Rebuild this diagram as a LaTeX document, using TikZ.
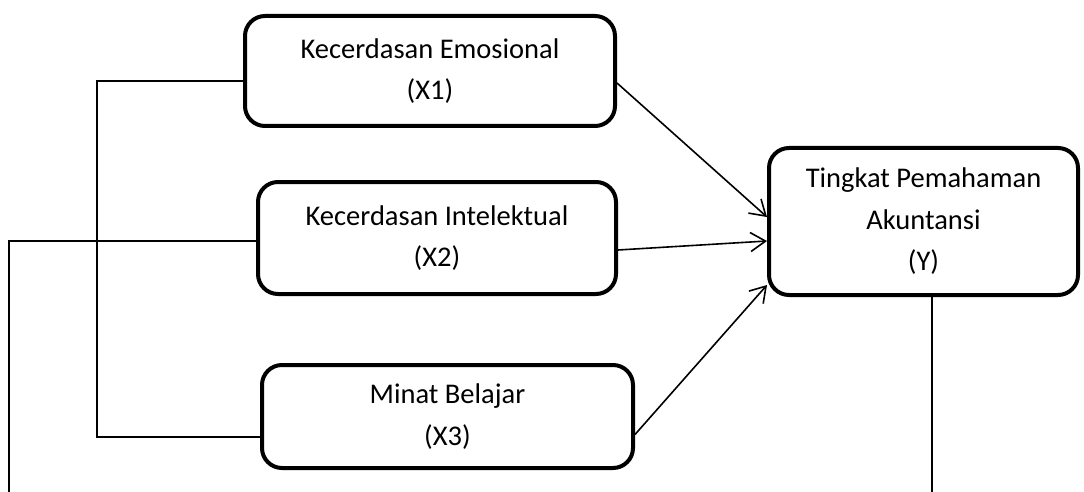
\documentclass[tikz,border=0pt]{standalone}
\usepackage{fontspec}
\setmainfont{Carlito}
\usetikzlibrary{arrows.meta,calc}
\tikzset{
  box/.style={draw, line width=4pt, rounded corners=20pt, align=center, inner sep=0pt,
    font=\fontsize{28.5}{41.5}\selectfont},
  conn/.style={line width=1.6pt},
  arr/.style={line width=1.6pt, -{Straight Barb[length=15pt,width=19pt,line width=1.6pt]}},
}
\begin{document}
\begin{tikzpicture}[x=1pt,y=-1pt]
\useasboundingbox (0,0) rectangle (1084,492);
\node[box, minimum width=370pt, minimum height=110pt] (X1) at (430,71) {Kecerdasan Emosional\\(X1)};
\node[box, minimum width=358pt, minimum height=112pt] (X2) at (437,238) {Kecerdasan Intelektual\\(X2)};
\node[box, minimum width=371pt, minimum height=103pt] (X3) at (447.5,416.5) {Minat Belajar\\(X3)};
\node[box, minimum width=309pt, minimum height=147pt] (Y) at (923.5,221.5) {Tingkat Pemahaman\\Akuntansi\\(Y)};
% arrows
\draw[arr] ($(X1.east)+(0,12)$) -- ($(Y.west)+(0,-4.5)$);
\draw[arr] ($(X2.east)+(0,12)$) -- ($(Y.west)+(0,19.5)$);
\draw[arr] ($(X3.east)+(0,18)$) -- ($(Y.west)+(0,63.5)$);
% bracket
\coordinate (b1) at (97,81);
\coordinate (b3) at (97,437);
\draw[conn] ($(X1.west)+(0,10)$) -- (b1) -- (b3) -- ($(X3.west)+(0,20.5)$);
% left line
\coordinate (l1) at (9,241);
\coordinate (l2) at (9,492);
\draw[conn] ($(X2.west)+(0,3)$) -- (l1) -- (l2);
% Y bottom
\coordinate (yb) at (932,492);
\draw[line width=2.6pt] ($(Y.south)+(8.5,0)$) -- (yb);
\end{tikzpicture}
\end{document}
